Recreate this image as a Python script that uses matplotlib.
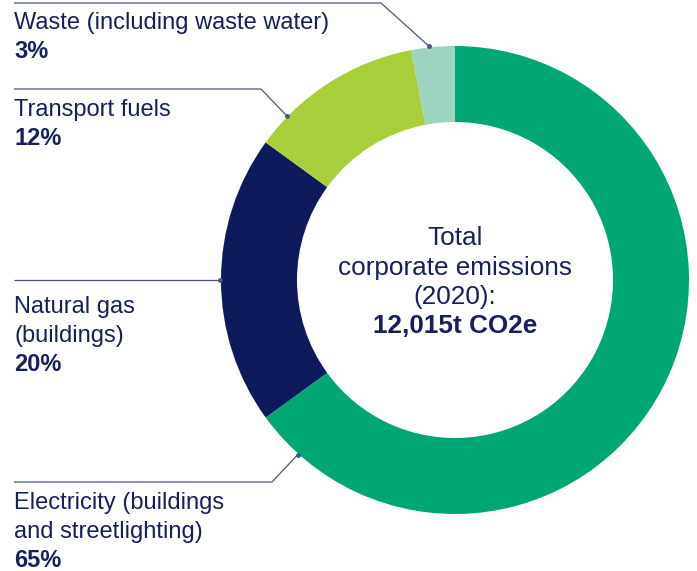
import matplotlib
matplotlib.use("Agg")
import matplotlib.pyplot as plt
import numpy as np

# ---- data ----
categories = ["Electricity (buildings\nand streetlighting)", "Natural gas\n(buildings)",
              "Transport fuels", "Waste (including waste water)"]
values = [65, 20, 12, 3]
colors = ["#00A774", "#0E1A5B", "#A8CE3A", "#9BD4BF"]
center_lines = ["Total", "corporate emissions", "(2020):"]
center_total = "12,015t CO2e"

W, H = 697, 571
TXT = "#15205C"
LINE = "#4A5585"
FONT = "Liberation Sans"
FS = 17
FS_C = 18.8

fig = plt.figure(figsize=(W / 100, H / 100), dpi=100)
ax = fig.add_axes([0, 0, 1, 1])

cx, cy_img = 455, 280
R, width = 234, 76
cy = H - cy_img

ax.pie(values, colors=colors, startangle=90, counterclock=False,
       center=(cx, cy), radius=R,
       wedgeprops=dict(width=width, linewidth=0), frame=True)
ax.set_xlim(0, W)
ax.set_ylim(0, H)
ax.set_aspect("equal")
ax.axis("off")

# label layout (image-pixel baselines)
label_x = 14
pitch = 29
first_baseline = [509, 313, 116, 29]
dot_angle = [228, 180, 135.7, 96.3]  # degrees, standard orientation
elbow = [(272, 482), None, (261, 89), (381, 3)]

for i, (cat, v) in enumerate(zip(categories, values)):
    lines = cat.split("\n")
    b = first_baseline[i]
    for j, ln in enumerate(lines):
        ax.text(label_x, H - (b + j * pitch), ln, fontsize=FS, family=FONT,
                color=TXT, ha="left", va="baseline")
    ax.text(label_x, H - (b + len(lines) * pitch), f"{v}%", fontsize=FS,
            family=FONT, fontweight="bold", color=TXT, ha="left", va="baseline")
    # leader line
    a = np.deg2rad(dot_angle[i])
    dx, dy = cx + (R + 1) * np.cos(a), cy + (R + 1) * np.sin(a)
    if elbow[i] is None:
        xs = [label_x, dx]
        ys = [dy, dy]
    else:
        ex, ey = elbow[i]
        xs = [label_x, ex, dx]
        ys = [H - ey, H - ey, dy]
    ax.plot(xs, ys, color=LINE, lw=0.9, solid_capstyle="butt")
    ax.plot([dx], [dy], "o", color=LINE, ms=2.5)

# center text
cb = [245, 274.5, 304]
for ln, b in zip(center_lines, cb):
    ax.text(cx, H - b, ln, fontsize=FS_C, family=FONT, color=TXT,
            ha="center", va="baseline")
ax.text(cx, H - 333, center_total, fontsize=FS_C, family=FONT, fontweight="bold",
        color=TXT, ha="center", va="baseline")

fig.savefig("out.png", dpi=100)
